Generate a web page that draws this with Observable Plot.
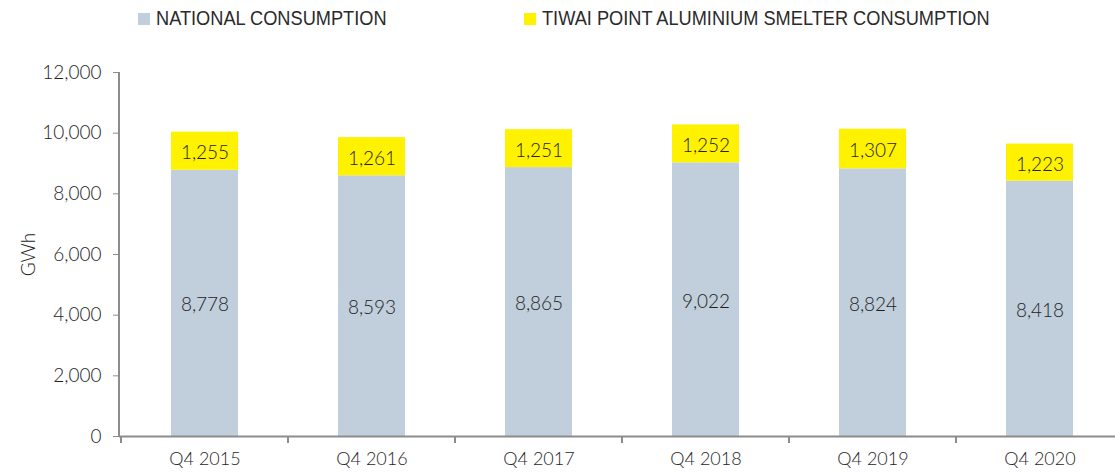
<!DOCTYPE html>
<html>
<head>
<meta charset="utf-8">
<script src="https://cdn.jsdelivr.net/npm/d3@7"></script>
<script src="https://cdn.jsdelivr.net/npm/@observablehq/plot@0.6"></script>
<style>
  html, body { margin: 0; padding: 0; background: #fff; overflow: hidden; }
  #wrap { width: 1115px; height: 474px; position: relative; overflow: hidden; }
  #chart { width: 1115px; overflow: hidden; }
  #legend { position: relative; height: 40px; font-family: "Liberation Sans Narrow", "Liberation Sans", sans-serif; font-size: 20px; color: #2a2a2a; }
  .item { position: absolute; top: 7px; display: flex; align-items: center; white-space: nowrap; }
  .sw { width: 12px; height: 12px; margin-right: 6px; display: inline-block; }
  .lab { display: inline-block; transform: scaleX(0.91); transform-origin: left center; }
  svg text { font-family: Lato, "Open Sans", sans-serif; font-weight: 300; }
</style>
</head>
<body>
<div id="wrap">
  <div id="legend"></div>
  <div id="chart"></div>
</div>
<script>
const categories = ["Q4 2015", "Q4 2016", "Q4 2017", "Q4 2018", "Q4 2019", "Q4 2020"];
const national = [8778, 8593, 8865, 9022, 8824, 8418];
const tiwai = [1255, 1261, 1251, 1252, 1307, 1223];
const seriesNames = ["NATIONAL CONSUMPTION", "TIWAI POINT ALUMINIUM SMELTER CONSUMPTION"];
const seriesColors = ["#c1cedb", "#fff200"];
const yTicks = [0, 2000, 4000, 6000, 8000, 10000, 12000];

const data = [];
categories.forEach((c, i) => {
  data.push({cat: c, series: seriesNames[0], value: national[i]});
  data.push({cat: c, series: seriesNames[1], value: tiwai[i]});
});

// legend
const legend = document.getElementById("legend");
const legendLeft = [138, 524];
seriesNames.forEach((s, i) => {
  const it = document.createElement("div");
  it.className = "item";
  it.style.left = legendLeft[i] + "px";
  it.innerHTML = `<span class="sw" style="background:${seriesColors[i]}"></span><span class="lab">${s}</span>`;
  legend.appendChild(it);
});

const fmt = d3.format(",");
const W = 1125, H = 434;

const plot = Plot.plot({
  width: W,
  height: H,
  marginLeft: 119,
  marginRight: 0,
  marginTop: 32,
  marginBottom: 38,
  style: {fontSize: "18px", color: "#1e1e1e", background: "transparent", maxWidth: "none"},
  x: {domain: categories, paddingInner: 0.6, paddingOuter: 0.3, label: null},
  y: {domain: [0, 12000], label: null},
  color: {domain: seriesNames, range: seriesColors},
  marks: [
    Plot.barY(data, {x: "cat", y: "value", fill: "series"}),
    Plot.text(data, Plot.stackY({x: "cat", y: "value", z: "series", text: d => fmt(d.value), fill: "#1e1e1e", fontSize: 19, dy: 2})),
    Plot.ruleY([0], {stroke: "#8c8c8c", strokeWidth: 2}),
    Plot.axisY({ticks: yTicks, tickFormat: fmt, tickSize: 6, tickPadding: 12, stroke: "#8c8c8c", fontSize: 19, label: "GWh", labelAnchor: "center", labelArrow: "none", labelOffset: 98}),
    Plot.axisX({tickSize: 0, tickPadding: 16, fontSize: 18})
  ]
});

document.getElementById("chart").appendChild(plot);

// axis line and boundary tick marks, placed from the plot's own scales
const xs = plot.scale("x");
const ys = plot.scale("y");
const svg = d3.select(plot);
const step = xs.step;
const x0 = xs.range[0];
const yBottom = ys.apply(0);
const yTop = ys.apply(12000);
svg.append("line")
  .attr("x1", x0).attr("x2", x0)
  .attr("y1", yTop).attr("y2", yBottom)
  .attr("stroke", "#8c8c8c").attr("stroke-width", 2);
const bounds = categories.map((c, i) => xs.apply(c) - (xs.bandwidth ? (step - xs.bandwidth) / 2 : 0));
svg.append("g").selectAll("line").data(bounds).join("line")
  .attr("x1", d => d).attr("x2", d => d)
  .attr("y1", yBottom).attr("y2", yBottom + 7)
  .attr("stroke", "#8c8c8c").attr("stroke-width", 2);
</script>
</body>
</html>
